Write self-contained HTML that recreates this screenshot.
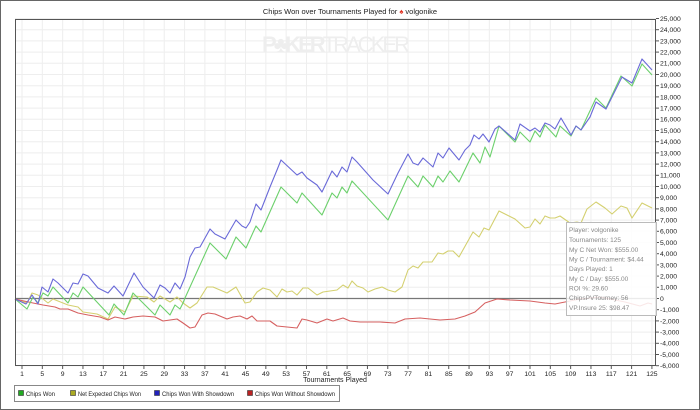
<!DOCTYPE html>
<html><head><meta charset="utf-8"><style>
body{margin:0;background:#fff}
svg{display:block;font-family:"Liberation Sans",sans-serif}
</style></head><body>
<svg width="700" height="410" viewBox="0 0 700 410" xmlns="http://www.w3.org/2000/svg">
<rect x="0.5" y="0.5" width="699" height="409" fill="#fff" stroke="#666"/>
<text x="350" y="14" font-size="7.5" text-anchor="middle" fill="#222">Chips Won over Tournaments Played for <tspan fill="#e03020">♠</tspan> volgonike</text>
<g id="grid" stroke="#eeeeee" stroke-width="1"></g>
<text x="262" y="52" font-size="22" fill="#eeeeee" font-weight="bold" textLength="148">P<tspan>♣</tspan>KER<tspan font-weight="normal">TRACKER</tspan></text>
<line x1="15" y1="298.5" x2="656" y2="298.5" stroke="#777" stroke-width="1.2"/>
<g fill="none" stroke-width="1.1" stroke-linejoin="round">
<polyline stroke="#d4d070" points="15,299 27,303 32,293 38,295 48,303 53,299 68,305 78,307 83,312 90,313 97,314 108,319 115,307 125,312 133,296 147,297 154,302 160,296 170,302 177,297 183,303 190,308 197,303 207,287 213,287 220,290 227,293 236,287 245,303 250,302 257,292 263,288 270,290 277,297 282,289 287,292 292,291 297,295 303,288 308,288 317,295 323,292 337,290 343,285 348,288 352,281 357,286 363,288 368,292 375,289 382,287 388,290 395,292 402,287 408,270 413,266 418,268 423,262 432,262 438,253 443,254 448,251 453,251 459,257 473,232 479,237 484,228 489,230 499,211 515,219 525,228 530,227 535,219 540,224 545,216 550,218 555,218 560,216 570,223 577,222 581,223 587,209 596,202 605,208 612,214 621,206 627,208 632,218 642,203 652,208"/>
<polyline stroke="#d66060" points="15,299 33,303 43,305 55,307 60,309 68,309 78,313 88,315 100,317 108,320 115,317 125,319 133,317 143,316 155,317 163,321 177,319 183,323 190,328 195,327 202,315 208,313 215,314 227,319 233,317 240,316 247,319 252,316 257,321 270,321 277,326 287,327 297,328 302,319 307,320 317,323 327,319 333,321 343,318 350,321 360,322 380,322 395,323 405,319 420,318 440,320 455,319 465,316 475,312 485,303 497,299 510,300 530,301 545,303 555,304 565,302 580,299 600,297 615,300 625,302 640,306 648,303 652,304"/>
<polyline stroke="#6cd06c" points="15,299 27,309 33,297 38,303 43,293 48,296 53,287 68,303 73,293 78,297 83,287 109,315 114,304 124,315 133,293 155,315 160,305 170,315 175,305 180,309 183,303 185,298 210,243 226,259 236,237 246,248 256,226 261,232 281,187 297,203 302,193 322,215 332,193 337,198 342,187 347,193 352,181 388,220 408,176 418,187 423,176 433,187 438,176 443,182 450,171 459,182 473,153 480,163 485,147 490,157 499,126 515,142 520,132 530,142 535,131 540,137 545,125 556,137 560,126 571,136 576,126 581,130 596,98 606,108 621,76 632,86 642,64 652,75"/>
<polyline stroke="#6a6ad8" points="15,299 26,304 32,295 38,304 42,287 48,292 53,279 58,283 68,293 73,283 78,284 83,274 88,276 98,288 108,293 114,286 123,296 134,273 143,287 154,298 160,285 165,288 170,293 175,283 180,289 185,277 190,257 195,248 200,247 210,229 215,234 225,239 236,220 242,226 246,228 250,222 256,204 261,210 270,187 277,170 281,160 297,175 302,172 307,178 317,185 322,192 332,171 337,177 342,167 347,172 352,157 357,162 373,180 388,194 398,173 408,154 413,163 418,165 423,158 433,167 438,153 443,158 449,148 459,160 465,150 470,145 474,135 479,139 483,134 489,142 495,129 499,126 515,140 520,124 530,131 535,128 540,132 545,123 550,125 555,129 561,118 571,135 576,126 581,130 590,117 596,102 606,109 622,77 632,83 642,59 652,70"/>
</g>
<rect x="15.5" y="19.5" width="640" height="346" fill="none" stroke="#555"/>
<g id="ax" font-size="6.8" fill="#222"></g>
<text x="335" y="382" font-size="7" text-anchor="middle" fill="#222">Tournaments Played</text>
<g font-size="6.5" fill="#888">
<rect x="566.5" y="222.5" width="90" height="93" fill="#fff" fill-opacity="0.85" stroke="#bbb"/>
<text x="569" y="232">Player: volgonike</text>
<text x="569" y="242">Tournaments: 125</text>
<text x="569" y="252">My C Net Won: $555.00</text>
<text x="569" y="261.5">My C / Tournament: $4.44</text>
<text x="569" y="271">Days Played: 1</text>
<text x="569" y="281">My C / Day: $555.00</text>
<text x="569" y="290.5">ROI %: 29.60</text>
<text x="569" y="300">ChipsPVTourney: 56</text>
<text x="569" y="310">VP.Insure 25: $98.47</text>
</g>
<rect x="14.5" y="385.5" width="325" height="16" fill="#fff" stroke="#888"/>
<g font-size="6.2" fill="#222">
<rect x="18.5" y="390.5" width="5" height="5" fill="#22aa22" stroke="#333" stroke-width=".6"/><text x="26" y="396" textLength="29" lengthAdjust="spacingAndGlyphs">Chips Won</text>
<rect x="70.5" y="390.5" width="5" height="5" fill="#aaaa22" stroke="#333" stroke-width=".6"/><text x="78" y="396" textLength="63" lengthAdjust="spacingAndGlyphs">Net Expected Chips Won</text>
<rect x="154.5" y="390.5" width="5" height="5" fill="#2222bb" stroke="#333" stroke-width=".6"/><text x="162" y="396" textLength="72" lengthAdjust="spacingAndGlyphs">Chips Won With Showdown</text>
<rect x="247.5" y="390.5" width="5" height="5" fill="#bb2222" stroke="#333" stroke-width=".6"/><text x="255" y="396" textLength="80" lengthAdjust="spacingAndGlyphs">Chips Won Without Showdown</text>
</g>
<script>
var ns="http://www.w3.org/2000/svg",g=document.getElementById("grid"),ax=document.getElementById("ax");
function el(p,t,a,tx){var e=document.createElementNS(ns,t);for(var k in a)e.setAttribute(k,a[k]);if(tx!=null)e.textContent=tx;p.appendChild(e);}
for(var v=-6000;v<=25000;v+=1000){var y=298.5-v*0.0112;
if(v!=0)el(g,"line",{x1:15,x2:656,y1:y,y2:y});
el(ax,"line",{x1:656,x2:659,y1:y,y2:y,stroke:"#555"});
var s=Math.abs(v).toLocaleString("en-US");el(ax,"text",{x:660,y:y+2.4},(v<0?"-":"")+s);}
for(var n=1;n<=125;n+=4){var x=22+(n-1)*5.08;
el(g,"line",{x1:x,x2:x,y1:19,y2:366});
el(ax,"line",{x1:x,x2:x,y1:366,y2:369,stroke:"#555"});
el(ax,"text",{x:x,y:376,"text-anchor":"middle"},""+n);}
</script>
</svg>
</body></html>
